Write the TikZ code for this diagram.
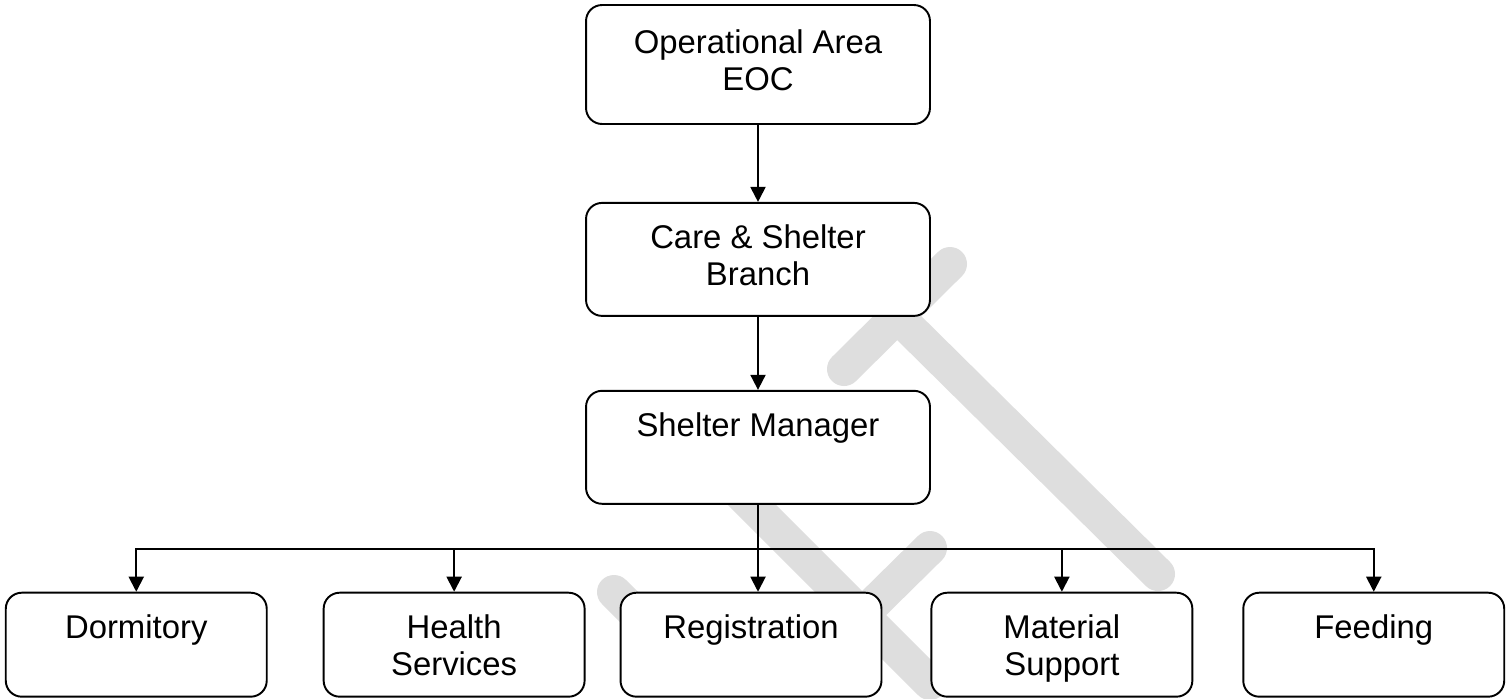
\documentclass[tikz,border=0pt]{standalone}
\usepackage{fontspec}
\setmainfont{Liberation Sans}
\usetikzlibrary{arrows.meta,positioning}

\newcommand{\twolines}[2]{\strut#1\\\strut#2}
\newcommand{\lowlines}[2]{\rule{0pt}{0.72cm}#1\\\strut#2}

\begin{document}
\begin{tikzpicture}[x=0.02cm,y=-0.02cm,line width=1.1pt,
    >={Triangle[length=0.3cm,width=0.3cm]}]
    \tikzstyle{unit}=[draw, fill=white, rounded corners=0.32cm, minimum width=6.88cm, minimum height=2.26cm, align=center, inner sep=0pt, font=\fontsize{18.7pt}{21pt}\selectfont]
    \tikzstyle{section}=[unit, minimum width=5.22cm, minimum height=2.08cm]
    \tikzstyle{link}=[->]
    \tikzstyle{watermark}=[line width=0.68cm, draw=black!13, line cap=round]

    \useasboundingbox (0,0) rectangle (1511,698);

    % watermark behind the boxes
    \draw[watermark] (950,264) -- (844,369);
    \draw[watermark] (897,316) -- (1158,574);
    \draw[watermark] (700,453) -- (930,683);
    \draw[watermark] (930,548) -- (862,615);
    \draw[watermark] (614,592) -- (700,678);

    \node[unit, minimum height=2.38cm] (eoc) at (758,64.5) {\twolines{Operational Area}{EOC}};
    \node[unit, below=1.54cm of eoc]    (branch)  {\twolines{Care \& Shelter}{Branch}};
    \node[unit, below=1.46cm of branch] (manager) {\twolines{Shelter Manager}{}};

    \node[section, below=1.74cm of manager, xshift=-0.14cm] (reg)    {\lowlines{Registration}{}};
    \node[section, left=0.68cm of reg]     (health)   {\lowlines{Health}{Services}};
    \node[section, left=1.1cm of health]   (dorm)     {\lowlines{Dormitory}{}};
    \node[section, right=0.96cm of reg]    (material) {\lowlines{Material}{Support}};
    \node[section, right=0.98cm of material] (feeding) {\lowlines{Feeding}{}};

    \coordinate[below=0.88cm of manager.south] (bus);

    \draw[link] (eoc) -- (branch);
    \draw[link] (branch) -- (manager);
    \draw[link] (manager) -- (manager.south |- reg.north);
    \draw[link] (bus) -| (dorm.north);
    \draw[link] (bus) -| (health.north);
    \draw[link] (bus) -| (material.north);
    \draw[link] (bus) -| (feeding.north);
\end{tikzpicture}
\end{document}
